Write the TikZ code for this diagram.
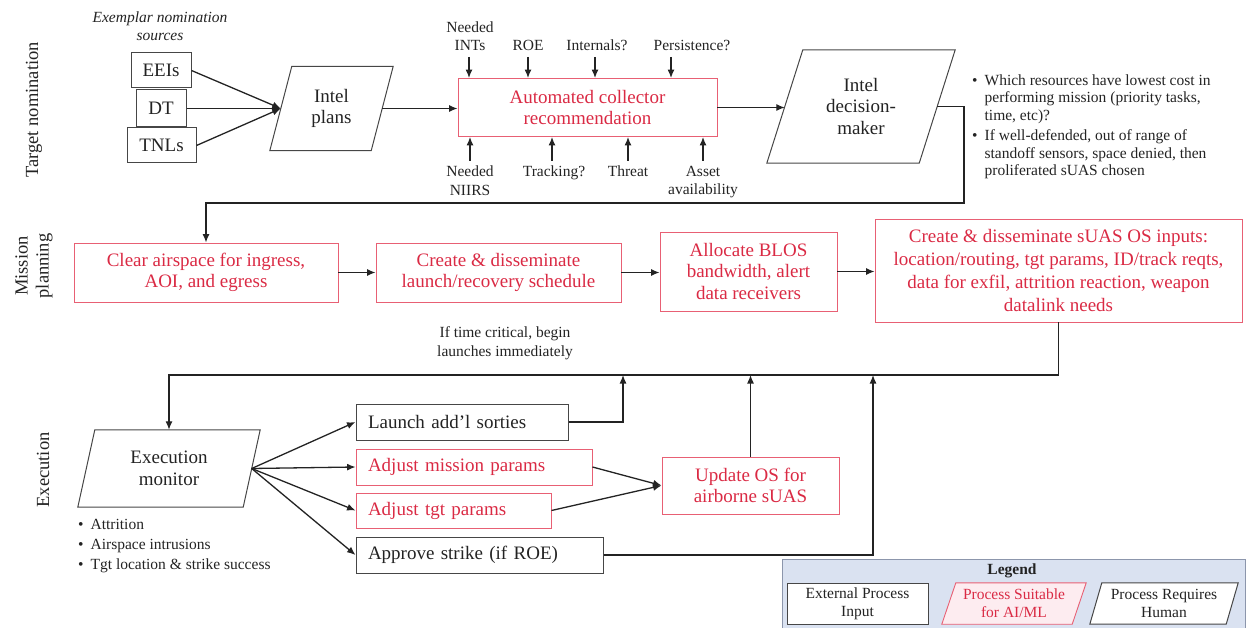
\documentclass[tikz,border=0pt]{standalone}
\usepackage{fontspec}
\setmainfont{Liberation Serif}
\usetikzlibrary{arrows.meta,calc,backgrounds}
\pgfdeclarelayer{shapes}
\pgfsetlayers{background,shapes,main}
\definecolor{aired}{RGB}{218,42,68}
\definecolor{airedline}{RGB}{232,96,116}
\definecolor{ink}{RGB}{35,35,35}
\definecolor{frame}{RGB}{70,70,70}
\definecolor{legfill}{RGB}{218,226,241}
\definecolor{legline}{RGB}{140,150,172}
\definecolor{pinkfill}{RGB}{253,236,240}
\newcommand\fbigtext{\fontsize{19}{21.5}\selectfont}
\newcommand\fsmalltext{\fontsize{15.5}{18.5}\selectfont}
% parallelogram drawn around a (borderless) node; #2 = half of the horizontal slant
\newcommand\drawslant[3]{%
  \begin{pgfonlayer}{shapes}
  \draw[#3] ($(#1.south west)+(-#2,0)$) -- ($(#1.north west)+(#2,0)$)
     -- ($(#1.north east)+(#2,0)$) -- ($(#1.south east)+(-#2,0)$) -- cycle;
  \end{pgfonlayer}}
\begin{document}
\begin{tikzpicture}[x=1pt,y=-1pt,
  wh/.style 2 args={minimum width=#1pt, minimum height=#2pt},
  box/.style={draw=frame, line width=1pt, inner sep=2pt, align=center, font=\fbigtext, text=ink},
  aibox/.style={box, draw=airedline, line width=0.9pt, text=aired},
  leftbox/.style={inner xsep=12pt, align=left, text width=#1pt},
  slant/.style={inner sep=0pt, align=center, font=\fbigtext, text=ink},
  shapeline/.style={draw=frame, line width=1pt},
  arr/.style={draw=ink, line width=1.3pt, -{Latex[length=8.5pt,width=7pt]}},
  lbl/.style={font=\fsmalltext, align=center, text=ink, inner sep=0pt},
  sect/.style={font=\fontsize{18.5}{21}\selectfont, rotate=90, align=center, text=ink},
]
\useasboundingbox (0,0) rectangle (1246,628);

% ---------- row titles ----------
\node[sect] (secT) at (34,110) {Target nomination};
\node[sect] (secM) at (34,266) {Mission\\planning};
\node[sect] (secE) at (43,470) {Execution};

% ---------- target nomination ----------
\node[lbl, font=\itshape\fontsize{15.5}{18}\selectfont] (exem) at (160,26) {Exemplar nomination\\sources};
\node[box, wh={60}{35}] (eei) at (161,70.5) {EEIs};
\node[box, wh={50}{37}] (dt) at (161,108.5) {DT};
\node[box, wh={69}{35}] (tnl) at (161.5,145.5) {TNLs};

\node[slant, wh={101}{84}] (plans) at (331.5,108.5) {Intel\\plans};
\drawslant{plans}{11}{shapeline}

\node[aibox, wh={259}{58}] (auto) at (587.5,107.5) {Automated collector\\recommendation};

\node[slant, wh={152}{113}] (dec) at (861,106.5) {Intel\\decision-\\maker};
\drawslant{dec}{18}{shapeline}

\foreach \s in {eei,dt,tnl} \draw[arr] (\s.east) -- (plans.west);
\draw[arr] (plans.east) -- (auto.west |- plans.east);
\draw[arr] (auto.east) -- (auto.east -| dec.west);

% inputs above the collector box
\node[lbl, anchor=south] (inA) at (470,51) {Needed\\INTs};
\node[lbl, anchor=south] (inB) at (528,51) {ROE};
\node[lbl, anchor=south] (inC) at (597,51) {Internals?};
\node[lbl, anchor=south] (inD) at (692,51) {Persistence?};
\coordinate (tA) at (469,57);
\coordinate (tB) at (528,57);
\coordinate (tC) at (595,57);
\coordinate (tD) at (671,57);
\foreach \c in {tA,tB,tC,tD} \draw[arr] (\c) -- (\c |- auto.north);

% inputs below the collector box
\node[lbl, anchor=north] (inE) at (470,166) {Needed\\NIIRS};
\node[lbl, anchor=north] (inF) at (554,166) {Tracking?};
\node[lbl, anchor=north] (inG) at (628,166) {Threat};
\node[lbl, anchor=north] (inH) at (703,166) {Asset\\availability};
\coordinate (bE) at (470,161);
\coordinate (bF) at (552,161);
\coordinate (bG) at (628,161);
\coordinate (bH) at (703,161);
\foreach \c in {bE,bF,bG,bH} \draw[arr] (\c) -- (\c |- auto.south);

% decision notes
\node[lbl, anchor=north west, align=left, font=\fontsize{15.5}{17.5}\selectfont] (notes) at (972,73) {%
  \begin{tabular}{@{}l@{\hspace{7pt}}l@{}}
  \textbullet & Which resources have lowest cost in\\
   & performing mission (priority tasks,\\
   & time, etc)?\\[3pt]
  \textbullet & If well-defended, out of range of\\
   & standoff sensors, space denied, then\\
   & proliferated sUAS chosen
  \end{tabular}};

% ---------- mission planning ----------
\node[aibox, wh={264}{59}] (clear) at (206,272.5) {Clear airspace for ingress,\\AOI, and egress};
\node[aibox, wh={245}{59}] (launch) at (498.5,272.5) {Create \& disseminate\\launch/recovery schedule};
\node[aibox, wh={177}{79}] (alloc) at (748.5,271.5) {Allocate BLOS\\bandwidth, alert\\data receivers};
\node[aibox, wh={367}{103}, font=\fontsize{19}{23}\selectfont] (suas) at (1058.5,270.5)
  {Create \& disseminate sUAS OS inputs:\\location/routing, tgt params, ID/track reqts,\\data for exfil, attrition reaction, weapon\\datalink needs};

\coordinate (rt1) at (964,203);
\draw[arr] (dec.east) -| (rt1) -| (clear.north);
\draw[arr] (clear.east) -- (launch.west);
\draw[arr] (launch.east) -- (launch.east -| alloc.west);
\draw[arr] (alloc.east) -- (alloc.east -| suas.west);

\node[lbl] (crit) at (505,343) {If time critical, begin\\launches immediately};

% ---------- execution ----------
\node[slant, wh={165}{77}] (mon) at (169,468.5) {Execution\\monitor};
\drawslant{mon}{8.5}{shapeline}

\node[lbl, anchor=north west, align=left, font=\fontsize{15.5}{20}\selectfont] (monnotes) at (78,515) {%
  \begin{tabular}{@{}l@{\hspace{7pt}}l@{}}
  \textbullet & Attrition\\
  \textbullet & Airspace intrusions\\
  \textbullet & Tgt location \& strike success
  \end{tabular}};

\node[box, wh={212}{36}, leftbox=188] (lsort) at (462,422) {Launch add'l sorties};
\node[aibox, wh={236}{36}, leftbox=212] (adjm) at (474,467) {Adjust mission params};
\node[aibox, wh={195}{35}, leftbox=171] (adjt) at (453.5,510.5) {Adjust tgt params};
\node[box, wh={247}{36}, leftbox=223] (appr) at (479.5,555) {Approve strike (if ROE)};
\node[aibox, wh={177}{57}] (upd) at (750.5,485.5) {Update OS for\\airborne sUAS};

\coordinate (ret) at (169,375);
\draw[arr] (suas.south) |- (ret) -- (mon.north);

\foreach \t in {lsort,adjm,adjt,appr} \draw[arr] (mon.east) -- (\t.west);
\draw[arr] (adjm.east) -- (upd.west);
\draw[arr] (adjt.east) -- (upd.west);

\coordinate (j1) at (623,375);
\coordinate (j3) at (873,375);
\draw[arr] (lsort.east) -| (j1);
\draw[arr] (upd.north) -- (upd.north |- j1);
\draw[arr] (appr.east) -| (j3);

% ---------- legend ----------
\begin{pgfonlayer}{background}
\node[draw=legline, fill=legfill, line width=1pt, wh={463}{70}, inner sep=0pt] (legbg) at (1013.5,594) {};
\end{pgfonlayer}
\node[lbl, font=\bfseries\fontsize{15.5}{18}\selectfont] (legt) at (1012,571) {Legend};
\node[box, fill=white, wh={141}{41}, font=\fontsize{15.5}{18}\selectfont] (legA) at (857.5,603.5) {External Process\\Input};
\node[slant, wh={130}{41}, font=\fontsize{15.5}{18}\selectfont, text=aired] (legB) at (1014,603.5) {Process Suitable\\for AI/ML};
\drawslant{legB}{7}{draw=airedline, fill=pinkfill, line width=0.9pt}
\node[slant, wh={136}{41}, font=\fontsize{15.5}{18}\selectfont] (legC) at (1164,603.5) {Process Requires\\Human};
\drawslant{legC}{6}{shapeline, fill=white}
\end{tikzpicture}
\end{document}
